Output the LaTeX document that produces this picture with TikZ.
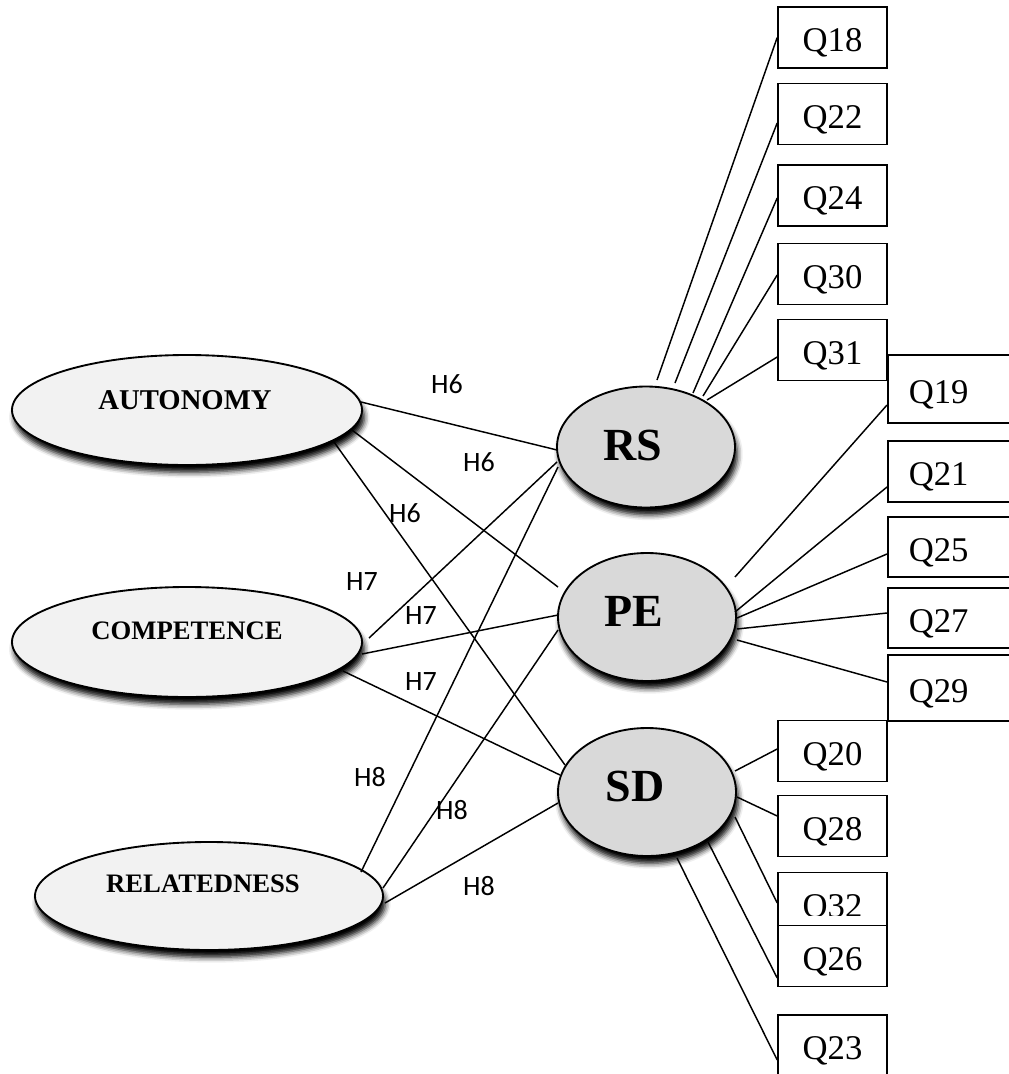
\documentclass[tikz,border=0pt]{standalone}
\usepackage{fontspec}
\setmainfont{Liberation Serif}
\newfontfamily\hypfont{Carlito}
\usetikzlibrary{shapes.geometric,shadows.blur}

\definecolor{exofill}{RGB}{242,242,242}
\definecolor{endofill}{RGB}{217,217,217}

\begin{document}
\begin{tikzpicture}[x=0.75pt,y=-0.75pt,
  construct/.style={ellipse, draw=black, line width=1.4pt, inner sep=0pt,
    blur shadow={shadow xshift=1.8pt, shadow yshift=-5.5pt,
                 shadow blur radius=4pt, shadow opacity=100}},
  exo/.style={construct, fill=exofill, minimum width=262.5pt, minimum height=82.5pt},
  endo/.style={construct, fill=endofill, minimum width=133.5pt, minimum height=96pt},
  exolabel/.style={inner sep=0pt, font=\bfseries\fontsize{20}{24}\selectfont},
  endolabel/.style={inner sep=0pt, font=\bfseries\fontsize{34.5}{40}\selectfont},
  itemfont/.style={font=\fontsize{26}{30}\selectfont, text height=21.4pt, text depth=0pt},
  item/.style={itemfont, draw=black, line width=1.2pt, fill=white, inner sep=0pt,
    minimum width=81.75pt, minimum height=45.75pt},
  itemr/.style={itemfont, draw=black, line width=1.2pt, fill=white, anchor=west,
    text width=120pt, align=left, inner xsep=15.75pt, inner ysep=0pt},
  link/.style={line width=1.1pt},
  hyp/.style={inner sep=0pt, font=\hypfont\fontsize{21}{25}\selectfont}
]
\useasboundingbox (0,0) rectangle (1009,1074);

% latent constructs
\node[exo, label={[exolabel, font=\bfseries\fontsize{21.5}{26}\selectfont, xshift=-1.5pt, yshift=7.5pt]center:AUTONOMY}] (auto) at (187,410) {};
\node[exo, label={[exolabel, yshift=8.25pt]center:COMPETENCE}] (comp) at (187,642) {};
\node[exo, minimum width=261pt, minimum height=81pt,
      label={[exolabel, xshift=-4.5pt, yshift=9pt]center:RELATEDNESS}] (rel) at (209,896) {};

\node[endo, minimum height=90.75pt, label={[endolabel, xshift=-9.75pt, yshift=1.5pt]center:RS}] (rs) at (646,447) {};
\node[endo, label={[endolabel, xshift=-9.75pt, yshift=4.5pt]center:PE}] (pe) at (647,617) {};
\node[endo, label={[endolabel, xshift=-9pt, yshift=4.5pt]center:SD}] (sd) at (647,792) {};

% indicator items of RS
\node[item] (q18) at (832.5,37.5) {Q18};
\node[item] (q22) at (832.5,114) {Q22};
\node[item] (q24) at (832.5,195.5) {Q24};
\node[item] (q30) at (832.5,274) {Q30};
\node[item] (q31) at (832.5,350) {Q31};

% indicator items of PE (running on past the right edge)
\node[itemr, minimum height=51pt] (q19) at (887,389) {Q19};
\node[itemr, minimum height=45.75pt] (q21) at (887,471.5) {Q21};
\node[itemr, minimum height=45pt] (q25) at (887,547) {Q25};
\node[itemr, minimum height=45pt] (q27) at (887,618) {Q27};
\node[itemr, minimum height=49.5pt] (q29) at (887,688) {Q29};

% indicator items of SD
\node[item] (q20) at (832.5,751) {Q20};
\node[item] (q28) at (832.5,826) {Q28};
\node[item] (q32) at (832.5,903) {};
\begin{scope}
  \clip (q32.north west) rectangle ([shift={(0,12)}]q32.east);
  \node[itemfont, inner sep=0pt] (q32text) at (q32.center) {Q32};
\end{scope}
\node[item] (q26) at (832.5,956) {Q26};
\node[item] (q23) at (832.5,1045.5) {Q23};

% structural paths
\draw[link] ([shift={(174,-8)}]auto.center) -- ([shift={(-89,3)}]rs.center);
\draw[link] ([shift={(165,20)}]auto.center) -- ([shift={(-89,-30)}]pe.center);
\draw[link] ([shift={(147,32)}]auto.center) -- ([shift={(-82,-27)}]sd.center);
\draw[link] ([shift={(182,-4)}]comp.center) -- ([shift={(-89,15)}]rs.center);
\draw[link] ([shift={(175,12)}]comp.center) -- ([shift={(-89,-2)}]pe.center);
\draw[link] ([shift={(156,29)}]comp.center) -- ([shift={(-87,-17)}]sd.center);
\draw[link] ([shift={(152,-24)}]rel.center) -- ([shift={(-88,20)}]rs.center);
\draw[link] ([shift={(174,-8)}]rel.center) -- ([shift={(-89,13)}]pe.center);
\draw[link] ([shift={(176,7)}]rel.center) -- ([shift={(-89,11)}]sd.center);

% measurement paths
\draw[link] (q18.west) -- ([shift={(11,-67)}]rs.center);
\draw[link] ([shift={(0,9)}]q22.west) -- ([shift={(29,-64)}]rs.center);
\draw[link] ([shift={(0,2.5)}]q24.west) -- ([shift={(47,-54)}]rs.center);
\draw[link] ([shift={(0,1)}]q30.west) -- ([shift={(57,-51)}]rs.center);
\draw[link] ([shift={(0,7)}]q31.west) -- ([shift={(61,-47)}]rs.center);

\draw[link] ([shift={(0,16)}]q19.west) -- ([shift={(88,-40)}]pe.center);
\draw[link] ([shift={(0,15.5)}]q21.west) -- ([shift={(88,-5)}]pe.center);
\draw[link] ([shift={(0,7)}]q25.west) -- ([shift={(90,1)}]pe.center);
\draw[link] ([shift={(0,-5)}]q27.west) -- ([shift={(90,12)}]pe.center);
\draw[link] ([shift={(0,-6)}]q29.west) -- ([shift={(90,23)}]pe.center);

\draw[link] ([shift={(0,-2)}]q20.west) -- ([shift={(88,-21)}]sd.center);
\draw[link] ([shift={(0,-10)}]q28.west) -- ([shift={(90,5)}]sd.center);
\draw[link] (q32.west) -- ([shift={(88,25)}]sd.center);
\draw[link] ([shift={(0,22)}]q26.west) -- ([shift={(61,50)}]sd.center);
\draw[link] ([shift={(0,14.5)}]q23.west) -- ([shift={(30,66)}]sd.center);

% hypothesis labels
\node[hyp] (h6a) at (447,384) {H6};
\node[hyp] (h6b) at (479,462) {H6};
\node[hyp] (h6c) at (405,513) {H6};
\node[hyp] (h7a) at (362,582) {H7};
\node[hyp] (h7b) at (421,616) {H7};
\node[hyp] (h7c) at (421,682) {H7};
\node[hyp] (h8a) at (370,777) {H8};
\node[hyp] (h8b) at (452,810) {H8};
\node[hyp] (h8c) at (479,886) {H8};
\end{tikzpicture}
\end{document}
